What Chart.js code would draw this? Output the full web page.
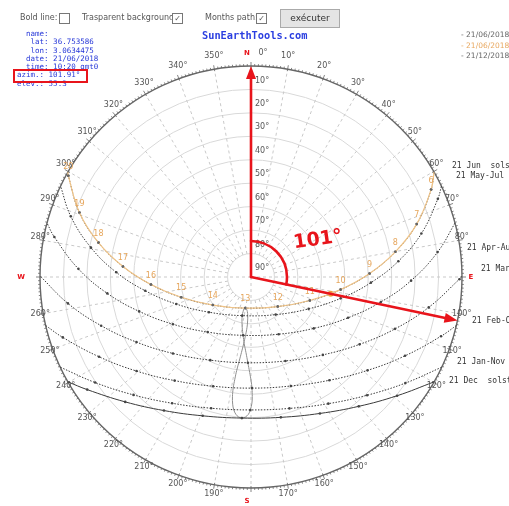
<!DOCTYPE html>
<html>
<head>
<meta charset="utf-8">
<script src="https://cdn.jsdelivr.net/npm/chart.js@4.4.1/dist/chart.umd.min.js"></script>
<style>
html, body { margin: 0; padding: 0; background: #fff; width: 509px; height: 506px; overflow: hidden; }
#wrap { position: relative; width: 509px; height: 506px; overflow: hidden; }
#sunChart { position: absolute; left: 0; top: 0; }
.ui { position: absolute; font: 8px "DejaVu Sans", sans-serif; color: #555; white-space: nowrap; }
.box { position: absolute; width: 9px; height: 9px; border: 1px solid #777; background: #fff;
       font: 8px "DejaVu Sans", sans-serif; line-height: 9px; text-align: center; color: #555; }
#btn { position: absolute; left: 280px; top: 9px; width: 58px; height: 17px; background: #e4e4e4;
       border: 1px solid #aaa; font: 9px "DejaVu Sans", sans-serif; color: #333; text-align: center; line-height: 17px; }
#info { position: absolute; left: 17px; top: 30px; margin: 0; font: 7.5px "DejaVu Sans Mono", monospace;
        line-height: 8.3px; color: #2536d8; }
#azbox { position: absolute; left: 13px; top: 69px; width: 71px; height: 10px; border: 2px solid #e8141b; }
#site { position: absolute; left: 202px; top: 29px; font: bold 10.3px "DejaVu Sans Mono", monospace; color: #2a3ee0; }
.leg { position: absolute; left: 461px; font: 7.5px "DejaVu Sans", sans-serif; white-space: nowrap; }
</style>
</head>
<body>
<div id="wrap">
  <canvas id="sunChart" width="509" height="506"></canvas>
  <div class="ui" style="left:20px;top:13px;">Bold line:</div>
  <div class="box" style="left:59px;top:13px;"></div>
  <div class="ui" style="left:82px;top:13px;">Trasparent background:</div>
  <div class="box" style="left:172px;top:13px;">✓</div>
  <div class="ui" style="left:205px;top:13px;">Months path:</div>
  <div class="box" style="left:256px;top:13px;">✓</div>
  <div id="btn">exécuter</div>
  <pre id="info">  name:
   lat: 36.753586
   lon: 3.0634475
  date: 21/06/2018
  time: 10:20 gmt0
azim.: 101.91°
elev.: 55.3</pre>
  <div id="azbox"></div>
  <div id="site">SunEarthTools.com</div>
  <div class="leg" style="top:30px;color:#666;">- 21/06/2018</div>
  <div class="leg" style="top:41px;color:#e8a860;">- 21/06/2018</div>
  <div class="leg" style="top:51px;color:#666;">- 21/12/2018</div>
</div>
<script>
// sun positions: azimuth (deg from N) and elevation (deg)
// today = 21 June, hourly points 6..20 plus sunrise / sunset
const todayHours = ['', '6', '7', '8', '9', '10', '11', '12', '13', '14', '15', '16', '17', '18', '19', '20', ''];
const todayAz = [60.2, 64.1, 72.3, 80.1, 88.3, 98.0, 111.8, 137.9, 190.5, 233.7, 253.8, 265.7, 274.7, 282.7, 290.6, 299.0, 299.8];
const todayEl = [0, 4.6, 15.8, 27.5, 39.4, 51.4, 63.0, 73.0, 76.5, 69.8, 59.0, 47.2, 35.2, 23.3, 11.8, 0.9, 0];

const mayAz = [64.5, 67.3, 75.7, 83.9, 92.7, 103.4, 118.9, 146.7, 192.8, 230.1, 250.1, 262.6, 272.0, 280.4, 288.6, 295.5];
const mayEl = [0, 3.6, 15.0, 26.8, 38.8, 50.7, 61.9, 70.8, 73.1, 66.6, 56.1, 44.5, 32.5, 20.6, 8.9, 0];

const aprAz = [75.2, 82.4, 91.3, 100.9, 112.8, 129.3, 154.2, 187.7, 218.2, 238.8, 252.9, 263.5, 272.7, 281.5, 284.8];
const aprEl = [0, 9.7, 21.7, 33.6, 45.1, 55.4, 62.9, 64.9, 60.1, 51.1, 40.1, 28.3, 16.3, 4.4, 0];

const marAz = [89.8, 90.6, 99.7, 109.8, 121.8, 137.3, 157.7, 182.1, 206.1, 225.6, 240.4, 252.0, 261.8, 270.3];
const marEl = [0, 1.1, 13.1, 24.7, 35.5, 44.8, 51.3, 53.4, 50.5, 43.4, 33.8, 22.8, 11.1, 0];

const febAz = [103.3, 107.3, 117.1, 128.7, 142.8, 159.9, 179.5, 199.1, 216.4, 230.6, 242.3, 252.2, 256.7];
const febEl = [0, 5.1, 16.2, 26.3, 34.7, 40.5, 42.6, 40.7, 35.1, 26.8, 16.8, 5.7, 0];

const janAz = [115.3, 124.5, 135.5, 148.6, 163.7, 180.3, 196.9, 212.0, 224.9, 235.9, 244.7];
const janEl = [0, 10.1, 19.3, 26.7, 31.6, 33.3, 31.5, 26.5, 19.0, 9.7, 0];

const decAz = [119.8, 129.1, 140.2, 153.2, 168.0, 183.7, 199.2, 213.1, 225.2, 235.5, 240.2];
const decEl = [0, 9.7, 18.2, 24.8, 28.8, 29.7, 27.3, 22.0, 14.4, 5.2, 0];

// analemma at 13:00, every ~10 days from 1 Jan
const anaAz = [182.3, 181.1, 180.3, 179.6, 179.4, 179.5, 179.9, 180.8, 182.1, 183.8, 185.8, 187.7, 189.8, 191.5, 192.8, 192.9, 192.3, 190.5,
  188.1, 186.1, 184.9, 184.4, 184.5, 185.3, 186.3, 187.2, 188.0, 188.7, 189.0, 189.1, 188.8, 188.2, 187.4, 186.3, 185.1, 183.7, 182.3];
const anaEl = [30.2, 31.4, 33.3, 36.1, 39.0, 42.6, 45.5, 49.3, 53.4, 57.7, 61.4, 64.9, 68.0, 70.7, 73.1, 74.9, 76.1, 76.5,
  76.2, 75.2, 73.6, 71.2, 68.5, 65.3, 61.3, 57.6, 53.7, 49.7, 45.8, 42.0, 38.3, 35.2, 32.9, 31.1, 30.1, 29.7, 30.2];

const sunAz = 101.91;
const sunEl = 55.3;

const azLabels = [0, 10, 20, 30, 40, 50, 60, 70, 80, 100, 110, 120, 130, 140, 150, 160, 170,
  190, 200, 210, 220, 230, 240, 250, 260, 280, 290, 300, 310, 320, 330, 340, 350];
const elLabels = [10, 20, 30, 40, 50, 60, 70, 80, 90];
const pathNames = ['21 Jun  solstice', '21 May-Jul', '21 Apr-Aug', '21 Mar-Sep', '21 Feb-Oct', '21 Jan-Nov', '21 Dec  solstice'];

function polar(azs, els) {
  return azs.map((az, i) => {
    const r = 90 - els[i];
    const a = az * Math.PI / 180;
    return { x: r * Math.sin(a), y: r * Math.cos(a), dot: els[i] > 0 };
  });
}

const dotRadius = c => (c.raw && c.raw.dot ? 1.3 : 0);

function monthSet(label, azs, els, dashed) {
  return {
    label: label,
    data: polar(azs, els),
    showLine: true,
    borderColor: '#3a3a3a',
    borderWidth: 1,
    borderDash: dashed ? [1.5, 1.5] : [],
    tension: 0.4,
    pointRadius: dotRadius,
    pointBackgroundColor: '#444',
    pointBorderWidth: 0
  };
}

const gridPlugin = {
  id: 'grid',
  beforeDatasetsDraw(chart) {
    const { ctx, scales: { x, y } } = chart;
    const ox = x.getPixelForValue(0), oy = y.getPixelForValue(0);
    const kx = x.getPixelForValue(1) - ox, ky = oy - y.getPixelForValue(1);
    ctx.save();
    ctx.strokeStyle = '#d9d9d9';
    ctx.lineWidth = 1;
    for (let e = 10; e < 90; e += 10) {
      ctx.beginPath();
      ctx.ellipse(ox, oy, (90 - e) * kx, (90 - e) * ky, 0, 0, Math.PI * 2);
      ctx.stroke();
    }
    ctx.strokeStyle = '#c9c9c9';
    ctx.setLineDash([3, 3]);
    for (let az = 0; az < 360; az += 10) {
      const a = az * Math.PI / 180;
      const r0 = az % 90 === 0 ? 0 : 10;
      ctx.beginPath();
      ctx.moveTo(ox + r0 * kx * Math.sin(a), oy - r0 * ky * Math.cos(a));
      ctx.lineTo(ox + 90 * kx * Math.sin(a), oy - 90 * ky * Math.cos(a));
      ctx.stroke();
    }
    ctx.setLineDash([]);
    ctx.strokeStyle = '#666';
    ctx.lineWidth = 1.4;
    ctx.beginPath();
    ctx.ellipse(ox, oy, 90 * kx, 90 * ky, 0, 0, Math.PI * 2);
    ctx.stroke();
    ctx.lineWidth = 0.8;
    const R = 90 * kx;
    for (let az = 0; az < 360; az++) {
      const a = az * Math.PI / 180;
      const r1 = az % 10 === 0 ? R - 2 : R;
      const r2 = az % 10 === 0 ? R + 4 : R + 2;
      ctx.beginPath();
      ctx.moveTo(ox + r1 * Math.sin(a), oy - r1 * Math.cos(a));
      ctx.lineTo(ox + r2 * Math.sin(a), oy - r2 * Math.cos(a));
      ctx.stroke();
    }
    ctx.restore();
  },
  afterDatasetsDraw(chart) {
    const { ctx, scales: { x, y } } = chart;
    const ox = x.getPixelForValue(0), oy = y.getPixelForValue(0);
    const R = x.getPixelForValue(90) - ox;
    ctx.save();
    ctx.font = '8px "DejaVu Sans", sans-serif';
    ctx.fillStyle = '#555';
    ctx.textAlign = 'center';
    ctx.textBaseline = 'middle';
    azLabels.forEach(az => {
      const a = az * Math.PI / 180;
      let px = ox + (R + 3) * Math.sin(a);
      if (az === 0) px += 12;
      ctx.fillText(az + '°', px, oy - (R + 11) * Math.cos(a) - 2);
    });
    ctx.textAlign = 'left';
    elLabels.forEach(e => {
      ctx.fillText(e + '°', ox + 4, oy - (90 - e) * (R / 90) - 9);
    });
    // cardinal points
    ctx.fillStyle = '#e8141b';
    ctx.font = 'bold 7px "DejaVu Sans", sans-serif';
    ctx.textAlign = 'center';
    ctx.fillText('N', ox - 4, oy - R - 13);
    ctx.fillText('E', ox + R + 9, oy);
    ctx.fillText('S', ox - 4, oy + R + 13);
    ctx.fillText('W', ox - R - 19, oy);
    // hour labels on today's path
    const meta = chart.getDatasetMeta(0);
    ctx.font = '8px "DejaVu Sans", sans-serif';
    ctx.fillStyle = '#e6a65c';
    meta.data.forEach((pt, i) => {
      if (todayHours[i]) ctx.fillText(todayHours[i], pt.x, pt.y - 9);
    });
    // month path names
    ctx.font = '8px "DejaVu Sans Mono", monospace';
    ctx.fillStyle = '#333';
    ctx.textAlign = 'left';
    const namePos = [[452, 166], [456, 176], [467, 248], [481, 269], [472, 321], [457, 362], [449, 381]];
    pathNames.forEach((n, i) => ctx.fillText(n, namePos[i][0], namePos[i][1]));
    ctx.restore();
  },
  afterDraw(chart) {
    // red hand-drawn annotation
    const { ctx, scales: { x, y } } = chart;
    const ox = x.getPixelForValue(0), oy = y.getPixelForValue(0);
    const R = x.getPixelForValue(90) - ox;
    const a = sunAz * Math.PI / 180;
    ctx.save();
    ctx.strokeStyle = '#e8141b';
    ctx.fillStyle = '#e8141b';
    ctx.lineWidth = 2.6;
    ctx.lineCap = 'round';
    const arrow = (tx, ty) => {
      const ang = Math.atan2(ty - oy, tx - ox);
      ctx.beginPath();
      ctx.moveTo(ox, oy);
      ctx.lineTo(tx - 10 * Math.cos(ang), ty - 10 * Math.sin(ang));
      ctx.stroke();
      ctx.beginPath();
      ctx.moveTo(tx, ty);
      ctx.lineTo(tx - 13 * Math.cos(ang) + 5 * Math.sin(ang), ty - 13 * Math.sin(ang) - 5 * Math.cos(ang));
      ctx.lineTo(tx - 13 * Math.cos(ang) - 5 * Math.sin(ang), ty - 13 * Math.sin(ang) + 5 * Math.cos(ang));
      ctx.closePath();
      ctx.fill();
    };
    arrow(ox, oy - R);
    arrow(ox + R * Math.sin(a), oy - R * Math.cos(a));
    ctx.beginPath();
    ctx.arc(ox, oy, 36, -Math.PI / 2, a - Math.PI / 2);
    ctx.stroke();
    ctx.translate(318, 240);
    ctx.rotate(-0.14);
    ctx.font = 'bold 19px "DejaVu Sans", sans-serif';
    ctx.textAlign = 'center';
    ctx.textBaseline = 'middle';
    ctx.fillText('101°', 0, 0);
    ctx.restore();
  }
};

const chart = new Chart(document.getElementById('sunChart').getContext('2d'), {
  type: 'scatter',
  data: {
    datasets: [
      {
        label: 'today',
        data: polar(todayAz, todayEl),
        showLine: true,
        borderColor: '#f0c488',
        borderWidth: 1.2,
        tension: 0.4,
        pointRadius: dotRadius,
        pointBackgroundColor: '#666',
        pointBorderWidth: 0
      },
      {
        label: 'sun',
        data: polar([sunAz], [sunEl]),
        pointRadius: 3,
        pointBackgroundColor: '#f0a040',
        pointBorderWidth: 0
      },
      monthSet('21 Jun', todayAz, todayEl, true),
      monthSet('21 May-Jul', mayAz, mayEl, true),
      monthSet('21 Apr-Aug', aprAz, aprEl, true),
      monthSet('21 Mar-Sep', marAz, marEl, true),
      monthSet('21 Feb-Oct', febAz, febEl, true),
      monthSet('21 Jan-Nov', janAz, janEl, true),
      monthSet('21 Dec', decAz, decEl, false),
      {
        label: 'analemma',
        data: polar(anaAz, anaEl),
        showLine: true,
        borderColor: '#8f8f8f',
        borderWidth: 1,
        tension: 0.4,
        pointRadius: 0
      }
    ]
  },
  options: {
    responsive: false,
    animation: false,
    events: [],
    layout: { padding: { left: 40, right: 47, top: 66, bottom: 18 } },
    scales: {
      x: { type: 'linear', min: -90, max: 90, display: false },
      y: { type: 'linear', min: -90, max: 90, display: false }
    },
    plugins: { legend: { display: false }, tooltip: { enabled: false } }
  },
  plugins: [gridPlugin]
});
</script>
</body>
</html>
